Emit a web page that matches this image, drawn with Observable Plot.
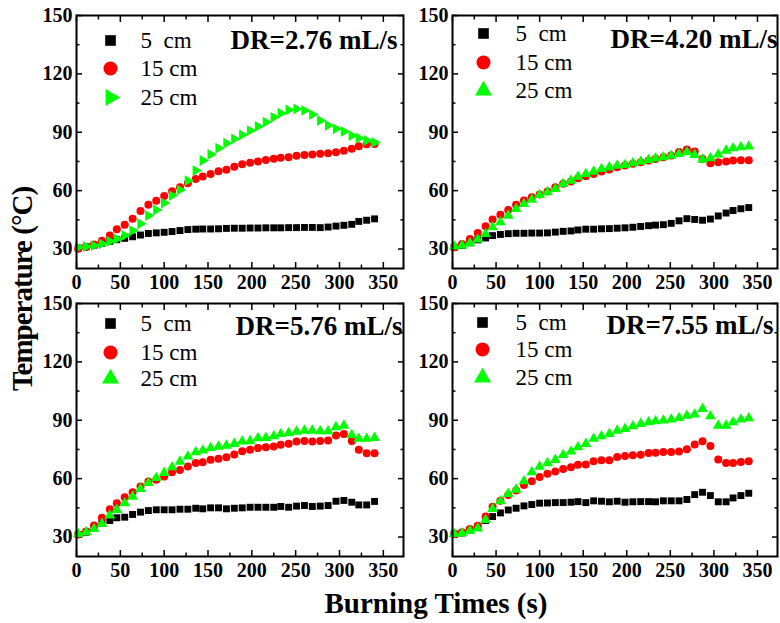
<!DOCTYPE html>
<html><head><meta charset="utf-8">
<script src="https://cdn.jsdelivr.net/npm/d3@7"></script>
<script src="https://cdn.jsdelivr.net/npm/@observablehq/plot@0.6"></script>
<style>
body{margin:0;background:#fff;}
#chart{position:relative;width:780px;height:623px;font-family:"Liberation Serif",serif;color:#000;}
#chart .panel{position:absolute;}
.ytitle{position:absolute;left:22px;top:289px;transform:translate(-50%,-50%) rotate(-90deg);font-weight:bold;font-size:29px;letter-spacing:-1px;white-space:nowrap;}
.xtitle{position:absolute;left:436px;top:603px;transform:translate(-50%,-50%);font-weight:bold;font-size:29px;white-space:nowrap;}
</style></head><body>
<div id="chart"></div>
<script>
// ---- data ----
const times = [2, 11, 20, 29, 38, 46, 55, 64, 73, 82, 91, 100, 109, 118, 127, 136, 144, 153, 162, 171, 180, 189, 198, 207, 216, 225, 233, 242, 251, 260, 269, 278, 287, 296, 305, 314, 322, 331, 340];
const seriesNames = ["5\u00a0 cm", "15 cm", "25 cm"];
const drLabels = ["DR=2.76 mL/s", "DR=4.20 mL/s", "DR=5.76 mL/s", "DR=7.55 mL/s"];
const xTicks = [0, 50, 100, 150, 200, 250, 300, 350];
const xMinor = [25, 75, 125, 175, 225, 275, 325];
const yTicks = [30, 60, 90, 120, 150];
const yMinor = [45, 75, 105, 135];

const p1_5  = [30.5, 31.2, 32, 33, 34, 34.8, 35.5, 36.3, 37.2, 38, 38.3, 38.6, 39, 39.5, 40, 40.2, 40.3, 40.3, 40.4, 40.6, 40.7, 40.7, 40.8, 40.8, 40.9, 40.9, 40.9, 41, 41, 41.1, 41.1, 41, 41.3, 41.8, 42.2, 42.7, 44.2, 44.8, 45.5];
const p1_15 = [30.2, 31, 32.3, 34.3, 37, 40.2, 42.5, 45.5, 49.5, 52.8, 54.8, 57.2, 59.7, 61.8, 63.8, 66, 67.3, 68.6, 70, 70.8, 72.3, 73.6, 74.3, 75, 75.8, 76.4, 76.9, 77.2, 77.9, 78.3, 78.6, 78.9, 79.2, 79.7, 80.5, 81.5, 82.8, 83.8, 84];
const p1_25 = [30.9, 31.3, 31.8, 32.7, 34, 35.2, 37, 39.5, 43, 47.2, 50.1, 53.6, 57.5, 60.4, 65.2, 70.3, 75.5, 78.6, 81.8, 84.4, 86.6, 88.7, 90.9, 93, 95.2, 97.7, 99.8, 101.5, 102, 101.2, 99.1, 96, 93.5, 91.8, 90.4, 88.3, 87, 85.8, 84.8];

const p2_5  = [30.9, 31.8, 33.2, 34.7, 35.7, 36.9, 37.5, 37.9, 38.1, 38.1, 38.2, 38.2, 38.3, 38.7, 39.1, 39.3, 39.8, 40.2, 40.2, 40.4, 40.5, 40.7, 40.9, 41.2, 41.6, 42, 42.3, 42.5, 43.2, 44.5, 45.6, 45.2, 44.8, 45.4, 47, 48.5, 49.8, 50.7, 51.3];
const p2_15 = [30.9, 32.6, 35.2, 38.3, 41.7, 45.2, 47.6, 50.1, 52.7, 54.9, 56.6, 58, 59.6, 61.8, 63.5, 64.7, 66.4, 67.4, 68.6, 69.8, 70.9, 72, 72.9, 73.8, 74.6, 75.5, 76.3, 77.2, 78, 79.8, 81.1, 80.1, 76.3, 74.1, 74.6, 75, 75.5, 75.6, 75.6];
const p2_25 = [31.3, 31.8, 33, 34.9, 37.8, 41.2, 43.8, 47.2, 50.6, 53.2, 55.4, 57.8, 59.2, 60.9, 63.5, 65.2, 67.2, 68.6, 69.8, 71.2, 72, 72.9, 73.2, 74.1, 74.9, 75.8, 76.6, 77.2, 78, 78.9, 79.8, 78.4, 76, 76.7, 78.6, 80.6, 81.8, 82.3, 82.7];

const p3_5  = [31.3, 32.5, 35, 37.3, 38.5, 39.9, 40.2, 41.6, 42.8, 43.6, 44, 44, 44, 44.3, 44.3, 44.8, 44.5, 45, 45, 44.5, 44.8, 45, 45.3, 45.3, 45.3, 45.3, 45.7, 45.3, 45.9, 46.2, 45.7, 45.9, 46.2, 48.4, 48.8, 47.9, 46.5, 46.5, 48.3];
const p3_15 = [31.3, 32.8, 35.9, 39.9, 44.3, 47.4, 50.5, 53, 56, 58.5, 59.4, 61.1, 63.3, 64.5, 66.2, 68.1, 68.4, 69.7, 70.2, 71, 72.4, 74.1, 74.8, 75.7, 76.2, 76.5, 77.4, 77.9, 79.1, 79.4, 79.1, 79.3, 79.6, 82.2, 83, 79.3, 74.8, 73.1, 73.1];
const p3_25 = [31.6, 32.5, 34.2, 36.8, 41.1, 44, 47.4, 50.8, 54.8, 57.8, 60.4, 63, 65.9, 68.8, 71.4, 73.6, 74.5, 75.8, 76.5, 77, 77.9, 79.1, 79.3, 80.8, 81, 81.8, 83, 83.5, 84.2, 84.7, 84.7, 84.4, 84.4, 86.5, 87.3, 82.5, 80.5, 80.5, 81];

const p4_5  = [31.6, 32.1, 33.6, 35.4, 38.5, 40.5, 42.4, 43.9, 44.8, 46, 46.7, 47.4, 47.5, 47.7, 47.7, 47.9, 48.2, 47.7, 48.6, 48.4, 48.1, 48.4, 47.9, 48.1, 48.2, 48.2, 48.1, 48.6, 48.6, 48.6, 49.3, 51.8, 53, 51.3, 48.1, 48.1, 50.1, 51.3, 52.5];
const p4_15 = [31.6, 32.4, 34.1, 35.8, 40.5, 45.6, 48.7, 51.6, 53.9, 56.8, 58.7, 60.8, 62.5, 63.7, 65, 65.9, 67.1, 67.3, 69, 69.4, 69.4, 71.1, 71.6, 72, 72.3, 73.2, 73.3, 73.7, 73.7, 74, 75.1, 77.6, 79.2, 76.8, 69.9, 68.1, 68.1, 68.6, 69];
const p4_25 = [31.6, 32, 33.3, 34.5, 38.8, 44.5, 48.4, 52.2, 54.4, 58.7, 63.3, 66.2, 68, 69.7, 72.2, 74, 76.2, 77.9, 80.5, 81.8, 83, 84.7, 85.6, 87, 88.2, 89, 89.5, 89.9, 90.4, 91.2, 92.4, 93, 95.9, 92.1, 87.3, 87.3, 89, 90.4, 91.1];

// ---- styling / layout ----
const sqrt3 = Math.sqrt(3);
const triangleRight = {
  draw(context, size) {
    const y = Math.sqrt(size / (sqrt3 * 3));
    context.moveTo(2 * y, 0);
    context.lineTo(-y, -sqrt3 * y);
    context.lineTo(-y, sqrt3 * y);
    context.closePath();
  }
};
const colors = ["#000000", "#ff0000", "#00ff00"];
const dataR = [3.9, 4, 4];
const legR = [6, 7, 6.3];

const panels = [
  {series: [p1_5, p1_15, p1_25], tri: triangleRight, left: 0, top: 0, width: 410, ml: 76, mr: 7,
   leg: {mx: 34, tx: 64, my: [25, 53, 82]}, dr: {dx: -6, dy: 25}},
  {series: [p2_5, p2_15, p2_25], tri: "triangle", left: 410, top: 0, width: 370, ml: 42, mr: 3,
   leg: {mx: 31, tx: 63, my: [18, 47, 75]}, dr: {dx: 0, dy: 24}},
  {series: [p3_5, p3_15, p3_25], tri: "triangle", left: 0, top: 288, width: 410, ml: 76, mr: 7,
   leg: {mx: 34, tx: 64, my: [20, 49, 75]}, dr: {dx: -1, dy: 23}},
  {series: [p4_5, p4_15, p4_25], tri: "triangle", left: 410, top: 288, width: 370, ml: 42, mr: 3,
   leg: {mx: 30, tx: 63, my: [19, 46, 74]}, dr: {dx: -4, dy: 22}}
];

const chart = document.getElementById("chart");

panels.forEach((p, k) => {
  const symbols = ["square", "circle", p.tri];
  const marks = [];
  // axes: inward ticks on all four sides
  marks.push(Plot.axisX(xTicks, {anchor: "bottom", tickSize: -6, tickPadding: 12, strokeWidth: 1.5, label: null}));
  marks.push(Plot.axisX(xMinor, {anchor: "bottom", tickSize: -3.5, tickFormat: () => "", strokeWidth: 1.5, label: null}));
  marks.push(Plot.axisX(xTicks, {anchor: "top", tickSize: -6, tickFormat: () => "", strokeWidth: 1.5, label: null}));
  marks.push(Plot.axisX(xMinor, {anchor: "top", tickSize: -3.5, tickFormat: () => "", strokeWidth: 1.5, label: null}));
  marks.push(Plot.axisY(yTicks, {anchor: "left", tickSize: -6, tickPadding: 10, strokeWidth: 1.5, label: null}));
  marks.push(Plot.axisY(yMinor, {anchor: "left", tickSize: -3.5, tickFormat: () => "", strokeWidth: 1.5, label: null}));
  marks.push(Plot.axisY(yTicks, {anchor: "right", tickSize: -6, tickFormat: () => "", strokeWidth: 1.5, label: null}));
  marks.push(Plot.axisY(yMinor, {anchor: "right", tickSize: -3.5, tickFormat: () => "", strokeWidth: 1.5, label: null}));
  // data
  p.series.forEach((vals, i) => {
    const rows = times.map((t, j) => ({t, v: vals[j]}));
    marks.push(Plot.dot(rows, {x: "t", y: "v", symbol: symbols[i], fill: colors[i], r: dataR[i]}));
  });
  // legend
  seriesNames.forEach((name, i) => {
    marks.push(Plot.dot([name], {frameAnchor: "top-left", dx: p.leg.mx, dy: p.leg.my[i], symbol: symbols[i], fill: colors[i], r: legR[i]}));
    marks.push(Plot.text([name], {frameAnchor: "top-left", dx: p.leg.tx, dy: p.leg.my[i], text: d => d,
      textAnchor: "start", lineAnchor: "middle", fontSize: 23, fontWeight: "normal"}));
  });
  // DR annotation
  marks.push(Plot.text([drLabels[k]], {frameAnchor: "top-right", dx: p.dr.dx, dy: p.dr.dy, text: d => d,
    textAnchor: "end", lineAnchor: "middle", fontSize: 27, fontWeight: "bold"}));
  marks.push(Plot.frame({stroke: "#000", strokeWidth: 2}));

  const svg = Plot.plot({
    width: p.width, height: 300,
    marginLeft: p.ml, marginRight: p.mr, marginTop: 15, marginBottom: 32,
    x: {domain: [0, 373]},
    y: {domain: [20, 150]},
    style: {fontFamily: "Liberation Serif", fontSize: "20px", fontWeight: "bold", background: "none", overflow: "visible", color: "#000"},
    marks
  });
  svg.classList.add("panel");
  svg.style.left = p.left + "px";
  svg.style.top = p.top + "px";
  svg.style.position = "absolute";
  chart.appendChild(svg);
});

const yt = document.createElement("div");
yt.className = "ytitle";
yt.textContent = "Temperature (\u00b0C)";
chart.appendChild(yt);
const xt = document.createElement("div");
xt.className = "xtitle";
xt.textContent = "Burning Times (s)";
chart.appendChild(xt);
</script>
</body></html>
